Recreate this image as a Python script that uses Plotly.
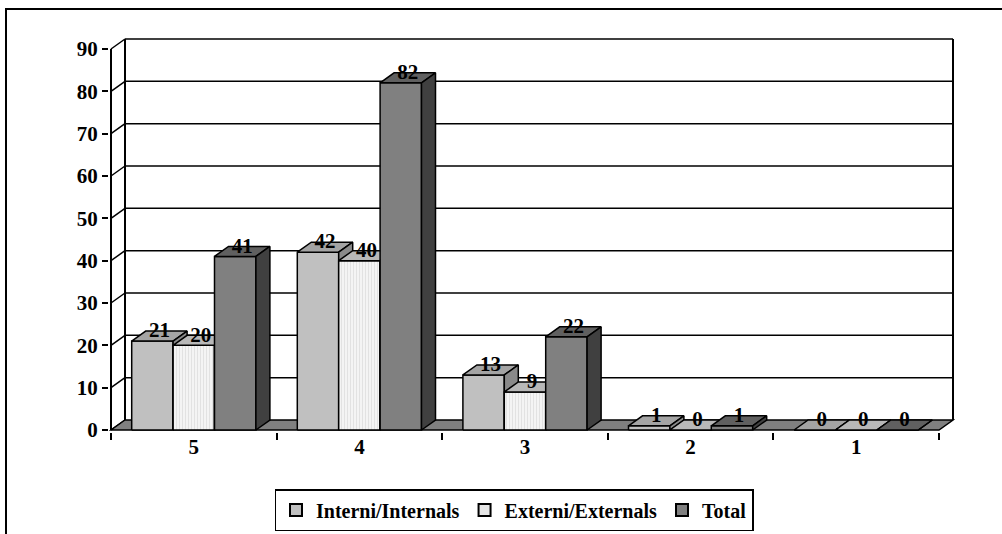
import plotly.graph_objects as go

# ---------------- data ----------------
categories = ["5", "4", "3", "2", "1"]
interni = [21, 42, 13, 1, 0]
externi = [20, 40, 9, 0, 0]
total = [41, 82, 22, 1, 0]
series_names = ["Interni/Internals", "Externi/Externals", "Total"]
y_ticks = list(range(0, 100, 10))

# ---------------- styling ----------------
FONT = "Liberation Serif, Times New Roman, serif"
front_colors = ["#C0C0C0", "#F2F2F2", "#808080"]
top_colors = ["#A4A4A4", "#B8B8B8", "#606060"]
side_colors = ["#8A8A8A", "#A0A0A0", "#404040"]

W, H = 1002, 534
ORIGIN_X, ORIGIN_Y = 111, 430
PX_PER_CAT = (939 - 111) / 5.0
PX_PER_UNIT = (430 - 49) / 90.0
DX_PX, DY_PX = 14, 10
PAD = 2
PLOT_L, PLOT_R = ORIGIN_X - PAD, 953 + PAD
PLOT_T, PLOT_B = 39 - PAD, ORIGIN_Y + PAD

dx = DX_PX / PX_PER_CAT
dy = DY_PX / PX_PER_UNIT
n = len(categories)
ymax = y_ticks[-1]

x_range = [(PLOT_L - ORIGIN_X) / PX_PER_CAT, (PLOT_R - ORIGIN_X) / PX_PER_CAT]
y_range = [(ORIGIN_Y - PLOT_B) / PX_PER_UNIT, (ORIGIN_Y - PLOT_T) / PX_PER_UNIT]


def px_to_paper_x(X):
    return (X - PLOT_L) / (PLOT_R - PLOT_L)


def px_to_paper_y(Y):
    return (PLOT_B - Y) / (PLOT_B - PLOT_T)


fig = go.Figure()
shapes = []
LINE_W = 1.5

# back wall gridlines + connectors
for v in y_ticks:
    if v > 0:
        shapes.append(dict(type="line", xref="x", yref="y", x0=dx, x1=n + dx,
                           y0=v + dy, y1=v + dy, line=dict(color="black", width=LINE_W),
                           layer="below"))
    shapes.append(dict(type="line", xref="x", yref="y", x0=0, x1=dx, y0=v, y1=v + dy,
                       line=dict(color="black", width=LINE_W), layer="below"))
# back wall verticals
shapes.append(dict(type="line", xref="x", yref="y", x0=dx, x1=dx, y0=dy, y1=ymax + dy,
                   line=dict(color="black", width=2), layer="below"))
shapes.append(dict(type="line", xref="x", yref="y", x0=n + dx, x1=n + dx, y0=dy, y1=ymax + dy,
                   line=dict(color="black", width=2), layer="below"))
# front value axis
shapes.append(dict(type="line", xref="x", yref="y", x0=0, x1=0, y0=0, y1=ymax,
                   line=dict(color="black", width=2), layer="below"))
# floor
shapes.append(dict(type="path", xref="x", yref="y",
                   path=f"M0,0 L{n},0 L{n + dx},{dy} L{dx},{dy} Z",
                   fillcolor="#808080", line=dict(color="black", width=LINE_W), layer="below"))
# outer chart frame (extends past the right and bottom edges of the picture)
shapes.append(dict(type="rect", xref="paper", yref="paper",
                   x0=px_to_paper_x(6), x1=px_to_paper_x(1012),
                   y0=px_to_paper_y(548), y1=px_to_paper_y(9),
                   line=dict(color="black", width=2), fillcolor="rgba(0,0,0,0)", layer="below"))

series = [interni, externi, total]
bar_w = 0.25
gap = (1 - bar_w * len(series)) / 2


def poly(xs, ys, fill, pattern=None):
    kw = {}
    if pattern is not None:
        kw["fillpattern"] = pattern
    fig.add_trace(go.Scatter(x=xs, y=ys, mode="lines", fill="toself", fillcolor=fill,
                             line=dict(color="black", width=LINE_W), showlegend=False,
                             hoverinfo="skip", **kw))


ext_pattern = dict(shape="|", fgcolor="#CFCFCF", bgcolor="#F4F4F4", size=3, solidity=0.35)

for c in range(n):
    for s, vals in enumerate(series):
        v = vals[c]
        xl = c + gap + bar_w * s
        xr = xl + bar_w
        poly([xl, xr, xr, xl, xl], [0, 0, v, v, 0], front_colors[s],
             ext_pattern if s == 1 else None)
        poly([xl, xr, xr + dx, xl + dx, xl], [v, v, v + dy, v + dy, v], top_colors[s])
        poly([xr, xr + dx, xr + dx, xr, xr], [0, dy, v + dy, v, 0], side_colors[s])

# data labels
for s, vals in enumerate(series):
    xs = [c + gap + bar_w * s + bar_w / 2 + dx / 2 for c in range(n)]
    ys = [v + dy * 0.9 for v in vals]
    fig.add_trace(go.Scatter(x=xs, y=ys, mode="text", text=[str(v) for v in vals],
                             textposition="middle center",
                             textfont=dict(family=FONT, size=21, color="black", weight="bold"),
                             showlegend=False, hoverinfo="skip", cliponaxis=False))

# legend entries
for s, name in enumerate(series_names):
    fig.add_trace(go.Bar(x=[None], y=[None], name=name,
                         marker=dict(color=front_colors[s] if s != 1 else "#E6E6E6",
                                     line=dict(color="black", width=1.5))))

fig.update_layout(
    width=W, height=H,
    margin=dict(l=PLOT_L, r=W - PLOT_R, t=PLOT_T, b=H - PLOT_B, autoexpand=False),
    paper_bgcolor="white", plot_bgcolor="white",
    shapes=shapes,
    hovermode=False,
    showlegend=True,
    legend=dict(orientation="h", x=px_to_paper_x(514), xanchor="center",
                y=px_to_paper_y(489), yanchor="top",
                bordercolor="black", borderwidth=1.5, bgcolor="white",
                font=dict(family=FONT, size=20, color="black", weight="bold"),
                itemsizing="constant", itemwidth=30, tracegroupgap=0),
    xaxis=dict(range=x_range, showgrid=False, zeroline=False, showline=False,
               tickmode="array", tickvals=[c + 0.5 for c in range(n)], ticktext=categories,
               ticks="", tickfont=dict(family=FONT, size=21, color="black", weight="bold"),
               minor=dict(tickmode="linear", tick0=0, dtick=1, ticks="outside", ticklen=7,
                          tickwidth=1.5, tickcolor="black", showgrid=False),
               fixedrange=True),
    yaxis=dict(range=y_range, showgrid=False, zeroline=False, showline=False,
               tickmode="array", tickvals=y_ticks, ticks="outside", ticklen=6,
               tickwidth=1.5, tickcolor="black",
               tickfont=dict(family=FONT, size=21, color="black", weight="bold"),
               fixedrange=True),
)

# remove the browser's default 8px body margin so the figure sits at the page origin
fig.write_html("out.html", config={"displayModeBar": False},
               post_script="document.body.style.margin='0px';")
